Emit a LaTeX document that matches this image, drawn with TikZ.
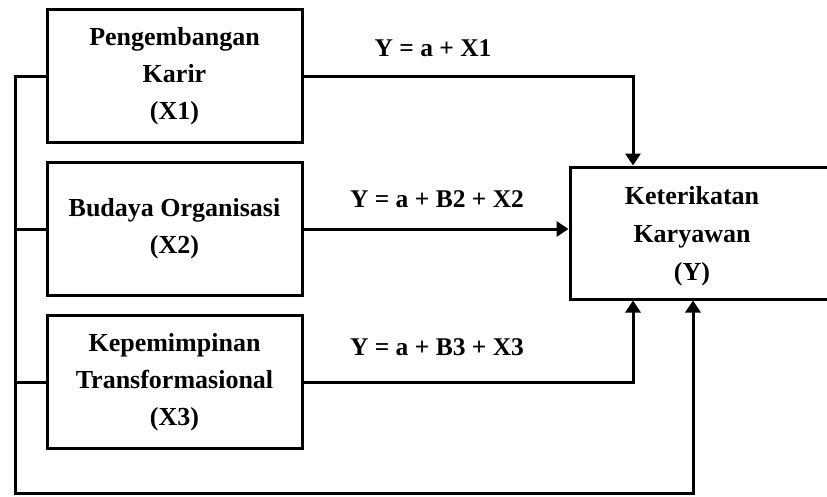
\documentclass[tikz,border=0pt]{standalone}
\usepackage{fontspec}
\setmainfont{Liberation Serif}
\usetikzlibrary{arrows.meta,calc}
\begin{document}
\begin{tikzpicture}[x=1pt,y=-1pt,
  box/.style={draw,line width=3pt,minimum width=255pt,minimum height=133pt,align=center,inner sep=0pt,font=\bfseries\fontsize{26}{37}\selectfont},
  txt/.style={align=center,inner sep=0pt,font=\bfseries\fontsize{26}{38}\selectfont},
  lbl/.style={font=\bfseries\fontsize{25.5}{30}\selectfont,inner sep=0pt},
  conn/.style={line width=3pt},
  arr/.style={conn,-{Triangle[width=15pt,length=12pt]}}]
\useasboundingbox (0,0) rectangle (827,496);
% variable boxes
\node[box] (x1) at (174.5,76) {Pengembangan\\Karir\\(X1)};
\node[box] (x2) at (174.5,229) {Budaya Organisasi\\(X2)};
\node[box] (x3) at (174.5,382) {Kepemimpinan\\Transformasional\\(X3)};
% dependent box (right side runs off the page)
\node[draw,line width=3pt,minimum width=270pt,minimum height=132pt,inner sep=0pt] (y) at (705,233) {};
\node[txt] (ytext) at (692,236) {Keterikatan\\Karyawan\\(Y)};
% junction coordinates
\coordinate (t1) at (633,0);
\coordinate (t3) at (633,0);
\coordinate (t4) at (693,0);
\coordinate (bus) at (15,0);
\coordinate (bot) at (15,493);
\coordinate (botr) at (693,493);
% connectors
\draw[arr] (x1.east) -| (t1 |- y.north);
\draw[arr] (x2.east) -- (x2.east -| y.west);
\draw[arr] (x3.east) -| (t3 |- y.south);
\draw[arr] (x1.west) -- (bus |- x1.west) -- (bot) -- (botr) -- (t4 |- y.south);
\draw[conn] (x2.west) -- (bus |- x2.west);
\draw[conn] (x3.west) -- (bus |- x3.west);
% labels
\node[lbl] (l1) at (433,48) {Y = a + X1};
\node[lbl] (l2) at (437,199) {Y = a + B2 + X2};
\node[lbl] (l3) at (437,347) {Y = a + B3 + X3};
\end{tikzpicture}
\end{document}
